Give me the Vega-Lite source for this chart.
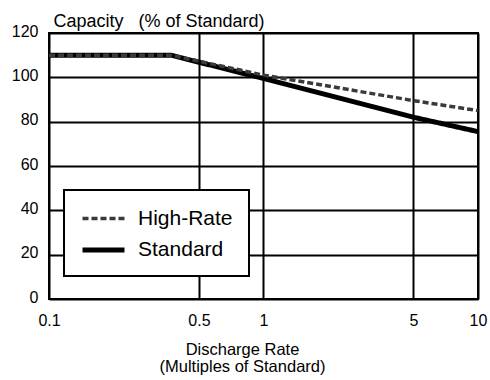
{
  "$schema": "https://vega.github.io/schema/vega-lite/v6.json",
  "width": 429,
  "height": 266,
  "autosize": {"type": "none"},
  "padding": {"left": 49, "top": 33, "right": 12, "bottom": 81},
  "background": "white",
  "config": {
    "font": "Liberation Sans",
    "view": {"stroke": "black", "strokeWidth": 2},
    "axis": {
      "labelFont": "Liberation Sans",
      "titleFont": "Liberation Sans",
      "labelColor": "black",
      "titleColor": "black",
      "domain": false,
      "ticks": false,
      "gridColor": "black",
      "gridOpacity": 1,
      "gridWidth": 2
    }
  },
  "data": {
    "values": [
      {"series": "Standard", "rate": 0.1, "capacity": 110},
      {"series": "Standard", "rate": 0.37, "capacity": 110},
      {"series": "Standard", "rate": 1, "capacity": 99.5},
      {"series": "Standard", "rate": 5, "capacity": 82},
      {"series": "Standard", "rate": 10, "capacity": 75.5},
      {"series": "High-Rate", "rate": 0.1, "capacity": 110},
      {"series": "High-Rate", "rate": 0.37, "capacity": 110},
      {"series": "High-Rate", "rate": 1, "capacity": 101},
      {"series": "High-Rate", "rate": 5, "capacity": 89.5},
      {"series": "High-Rate", "rate": 10, "capacity": 85}
    ]
  },
  "mark": {"type": "line", "clip": true},
  "encoding": {
    "x": {
      "field": "rate",
      "type": "quantitative",
      "scale": {"type": "log", "domain": [0.1, 10]},
      "axis": {
        "values": [0.1, 0.5, 1, 5, 10],
        "format": "~g",
        "labelFontSize": 16,
        "labelPadding": 13,
        "labelBaseline": "top",
        "labelFlush": false,
        "title": ["Discharge Rate", "(Multiples of Standard)"],
        "titleFontSize": 16.5,
        "titleFontWeight": "normal",
        "titleLineHeight": 17,
        "titleAnchor": "start",
        "titleAlign": "center",
        "titleBaseline": "top",
        "titleX": 193,
        "titleY": 42
      }
    },
    "y": {
      "field": "capacity",
      "type": "quantitative",
      "scale": {"domain": [0, 120]},
      "axis": {
        "values": [0, 20, 40, 60, 80, 100, 120],
        "labelFontSize": 16,
        "labelPadding": 11,
        "labelOffset": -2,
        "title": "Capacity\u00a0\u00a0\u00a0(% of Standard)",
        "titleFontSize": 18,
        "titleFontWeight": "normal",
        "titleAngle": 0,
        "titleAlign": "left",
        "titleBaseline": "alphabetic",
        "titleAnchor": "start",
        "titleX": 4,
        "titleY": -7
      }
    },
    "color": {
      "field": "series",
      "type": "nominal",
      "scale": {"domain": ["High-Rate", "Standard"], "range": ["#3a3a3a", "#000000"]},
      "legend": {
        "title": null,
        "orient": "none",
        "legendX": 15,
        "legendY": 157,
        "fillColor": "white",
        "strokeColor": "black",
        "padding": 16,
        "symbolType": "M-1,0H3",
        "symbolSize": 441,
        "labelFontSize": 21,
        "labelColor": "black",
        "labelOffset": 32,
        "rowPadding": 8,
        "labelLimit": 300,
        "encode": {"legend": {"update": {"strokeWidth": {"value": 2}}}}
      }
    },
    "strokeDash": {
      "field": "series",
      "type": "nominal",
      "scale": {"domain": ["High-Rate", "Standard"], "range": [[6, 3], [1, 0]]},
      "legend": null
    },
    "strokeWidth": {
      "field": "series",
      "type": "nominal",
      "scale": {"domain": ["High-Rate", "Standard"], "range": [3.5, 5]},
      "legend": null
    },
    "order": {"field": "rate", "type": "quantitative"}
  }
}
